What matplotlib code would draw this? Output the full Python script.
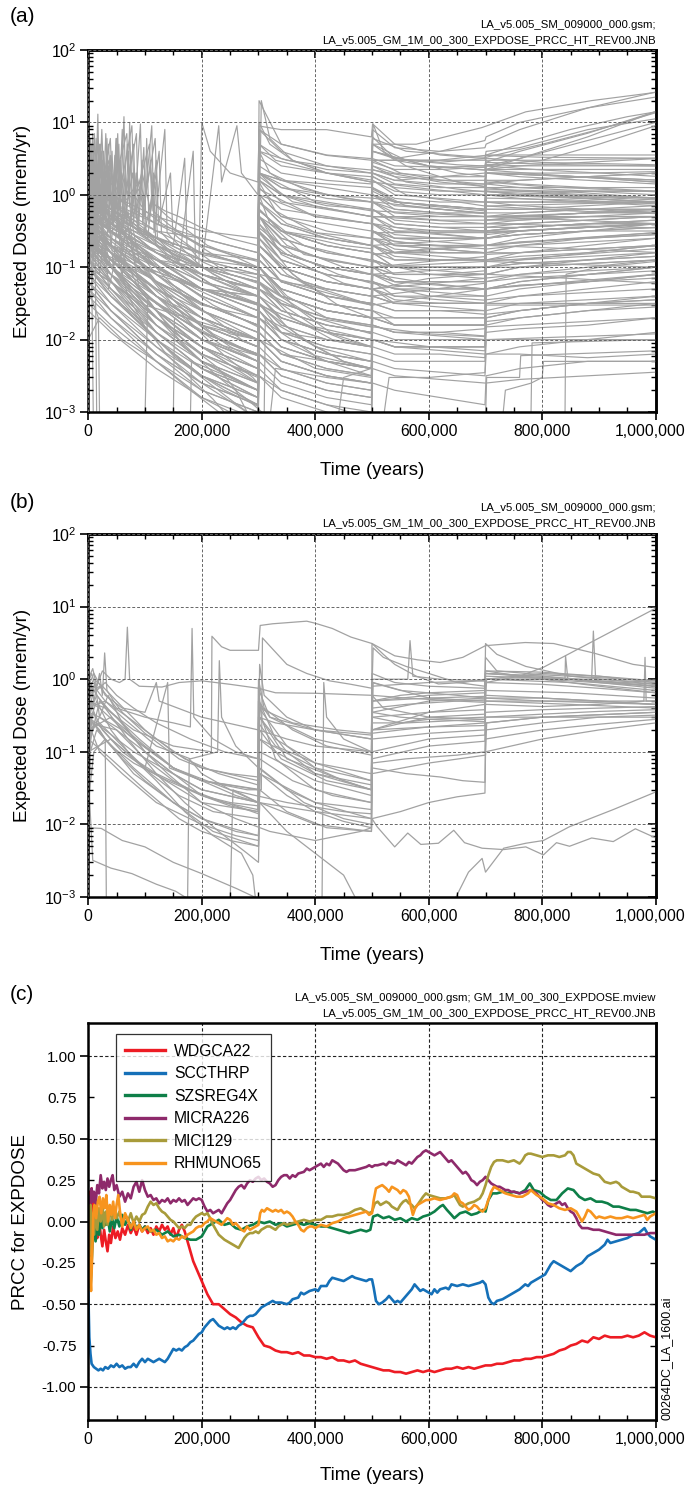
import numpy as np
import matplotlib
matplotlib.use('Agg')
import matplotlib.pyplot as plt
from matplotlib import font_manager
from matplotlib.transforms import ScaledTranslation
from matplotlib.ticker import (MultipleLocator, FixedLocator, LogLocator,
                               FuncFormatter, NullFormatter, FormatStrFormatter)

plt.rcParams['font.family'] = ['Liberation Sans', 'DejaVu Sans']
plt.rcParams['mathtext.default'] = 'regular'
plt.rcParams['axes.unicode_minus'] = False

_names = {f.name for f in font_manager.fontManager.ttflist}
if 'Liberation Sans Narrow' in _names:
    HDR_FONT, HDR_SIZE = ['Liberation Sans Narrow', 'Liberation Sans'], 10
else:
    HDR_FONT, HDR_SIZE = ['Liberation Sans', 'DejaVu Sans'], 8.2

# ---------------------------------------------------------------- data
# Panel (a): curves on a shared time grid (kyr), values are log10(dose mrem/yr)
T_GRID_A = [0, 40, 120, 200, 299, 301, 340, 420, 499, 501, 540, 620, 699, 701, 760, 880, 1000]
A_GRID_LOG = [
    [-0.5, -0.7, -0.9, -1.0, -1.1, 0.95, 0.9, 0.9, 0.8, 0.98, 0.7, 0.55, 0.5, 0.6, 0.65, 0.9, 1.05],
    [-0.3, -0.5, -0.8, -1.0, -1.2, 1.3, 0.7, 0.55, 0.5, 0.9, 0.65, 0.6, 0.65, 0.7, 0.9, 1.2, 1.42],
    [0.0, -0.2, -0.5, -0.6, -0.8, 0.9, 0.6, 0.4, 0.3, 0.8, 0.5, 0.6, 0.75, 0.8, 1.0, 1.2, 1.35],
    [-0.2, -0.4, -0.6, -0.8, -0.9, 0.7, 0.5, 0.35, 0.3, 0.6, 0.5, 0.45, 0.5, 0.55, 0.55, 0.55, 0.55],
    [-0.4, -0.6, -0.9, -1.1, -1.3, 0.6, 0.4, 0.3, 0.25, 0.5, 0.4, 0.38, 0.4, 0.45, 0.6, 0.85, 1.15],
    [0.1, -0.1, -0.4, -0.6, -0.8, 0.5, 0.3, 0.2, 0.15, 0.45, 0.35, 0.35, 0.38, 0.42, 0.4, 0.4, 0.4],
    [-0.6, -0.8, -1.1, -1.3, -1.5, 0.3, 0.1, 0.0, -0.1, 0.4, 0.3, 0.25, 0.25, 0.35, 0.5, 0.75, 1.0],
    [-0.2, -0.4, -0.7, -0.9, -1.0, 0.4, 0.2, 0.1, 0.0, 0.3, 0.2, 0.25, 0.3, 0.4, 0.5, 0.8, 1.15],
    [0.2, 0.0, -0.3, -0.5, -0.6, 0.3, 0.2, 0.15, 0.1, 0.35, 0.25, 0.2, 0.2, 0.3, 0.3, 0.3, 0.32],
    [-0.1, -0.3, -0.6, -0.8, -1.0, 0.2, 0.0, -0.1, -0.2, 0.2, 0.05, 0.0, 0.0, 0.2, 0.2, 0.25, 0.3],
    [-0.3, -0.5, -0.9, -1.2, -1.4, 0.0, -0.3, -0.5, -0.6, 0.1, -0.1, -0.15, -0.2, 0.1, 0.05, 0.0, -0.05],
    [-0.5, -0.7, -1.0, -1.3, -1.5, -0.2, -0.5, -0.7, -0.8, -0.1, -0.3, -0.35, -0.35, 0.0, -0.05, -0.1, -0.1],
    [-0.2, -0.6, -1.1, -1.5, -1.8, -0.4, -0.8, -1.0, -1.1, -0.3, -0.5, -0.5, -0.5, -0.2, -0.2, -0.15, -0.1],
    [-0.7, -0.9, -1.3, -1.6, -1.9, -0.6, -1.0, -1.2, -1.3, -0.5, -0.7, -0.7, -0.7, -0.4, -0.35, -0.3, -0.25],
    [0.0, -0.3, -0.8, -1.1, -1.3, -0.3, -0.6, -0.8, -0.9, 0.0, -0.2, -0.25, -0.3, 0.05, 0.0, -0.05, -0.1],
    [-0.4, -0.8, -1.4, -1.8, -2.1, -0.8, -1.2, -1.4, -1.5, -0.6, -0.8, -0.8, -0.8, -0.5, -0.45, -0.4, -0.35],
    [-0.9, -1.1, -1.5, -1.8, -2.0, -1.0, -1.3, -1.5, -1.6, -0.8, -1.0, -1.0, -1.0, -0.6, -0.55, -0.5, -0.45],
    [-0.1, -0.4, -0.9, -1.3, -1.6, -0.5, -0.9, -1.1, -1.2, -0.4, -0.6, -0.6, -0.6, -0.3, -0.3, -0.3, -0.3],
    [-0.6, -1.0, -1.6, -2.0, -2.3, -1.2, -1.5, -1.7, -1.8, -0.9, -1.1, -1.1, -1.05, -0.7, -0.6, -0.5, -0.4],
    [-0.3, -0.7, -1.2, -1.6, -1.9, -0.7, -1.0, -1.2, -1.3, -0.2, -0.4, -0.45, -0.5, -0.1, -0.15, -0.2, -0.25],
    [-1.0, -1.2, -1.7, -2.1, -2.4, -1.4, -1.7, -1.9, -2.0, -1.1, -1.2, -1.2, -1.2, -0.9, -0.8, -0.7, -0.6],
    [-0.5, -0.9, -1.5, -1.9, -2.2, -1.0, -1.4, -1.6, -1.7, -0.7, -0.9, -0.9, -0.9, -0.5, -0.45, -0.4, -0.4],
    [0.2, -0.2, -0.7, -1.0, -1.2, -0.1, -0.4, -0.6, -0.7, 0.2, 0.0, -0.05, -0.1, 0.2, 0.15, 0.1, 0.05],
    [-0.8, -1.0, -1.4, -1.7, -2.0, -0.9, -1.2, -1.4, -1.5, -0.5, -0.7, -0.75, -0.8, -0.3, -0.3, -0.25, -0.2],
    [-0.2, -0.5, -1.0, -1.4, -1.7, -0.3, -0.7, -0.9, -1.0, -0.2, -0.4, -0.45, -0.45, -0.1, -0.1, -0.1, -0.1],
    [-0.5, -1.0, -1.7, -2.2, -2.5, -1.5, -1.8, -2.0, -2.1, -1.2, -1.4, -1.4, -1.4, -1.0, -0.9, -0.8, -0.7],
    [-0.8, -1.2, -1.9, -2.4, -2.7, -1.8, -2.1, -2.3, -2.4, -1.5, -1.6, -1.6, -1.6, -1.2, -1.1, -1.0, -0.9],
    [-1.0, -1.4, -2.0, -2.5, -2.8, -2.0, -2.3, -2.5, -2.6, -1.8, -1.9, -1.9, -1.85, -1.4, -1.3, -1.2, -1.1],
    [-0.3, -0.8, -1.6, -2.1, -2.6, -1.6, -2.0, -2.3, -2.5, -1.6, -1.8, -1.8, -1.8, -1.3, -1.2, -1.1, -1.0],
    [-1.2, -1.6, -2.2, -2.6, -2.9, -2.2, -2.5, -2.7, -2.8, -2.0, -2.1, -2.1, -2.1, -1.7, -1.6, -1.5, -1.4],
    [-0.7, -1.1, -1.8, -2.3, -2.7, -1.7, -2.0, -2.2, -2.3, -1.4, -1.5, -1.5, -1.5, -1.5, -1.5, -1.5, -1.5],
    [-0.4, -0.9, -1.5, -2.0, -2.3, -1.3, -1.6, -1.8, -1.9, -1.0, -1.2, -1.25, -1.3, -0.8, -0.8, -0.75, -0.7],
    [-1.5, -1.8, -2.3, -2.7, -3.0, -2.3, -2.6, -2.8, -2.9, -2.2, -2.3, -2.3, -2.3, -2.0, -2.0, -2.0, -2.0],
    [-0.9, -1.3, -2.0, -2.5, -2.9, -2.1, -2.4, -2.6, -2.7, -2.0, -2.1, -2.15, -2.2, -2.2, -2.2, -2.25, -2.2],
    [-0.6, -1.1, -1.9, -2.4, -2.8, -1.9, -2.2, -2.4, -2.5, -1.7, -1.8, -1.8, -1.8, -1.3, -1.2, -1.1, -1.0],
    [-1.1, -1.5, -2.1, -2.6, -3.1, -2.4, -2.7, -2.9, -3.1, -2.4, -2.5, -2.55, -2.6, -2.6, -2.55, -2.5, -2.45],
    [-0.2, -0.7, -1.4, -1.9, -2.2, -1.1, -1.4, -1.6, -1.7, -0.8, -1.0, -1.0, -1.0, -0.6, -0.55, -0.5, -0.45],
    [-1.3, -1.7, -2.3, -2.8, -3.2, -2.5, -2.8, -3.0, -3.2, -2.6, -2.7, -2.8, -2.9, -2.5, -2.4, -2.3, -2.3],
    [0.3, -0.3, -1.1, -1.6, -2.0, -1.0, -1.3, -1.5, -1.6, -0.9, -1.0, -1.0, -1.0, -0.6, -0.5, -0.45, -0.4],
    [-0.4, -1.0, -1.8, -2.3, -2.6, -1.5, -1.9, -2.1, -2.2, -1.3, -1.5, -1.5, -1.5, -1.0, -0.95, -0.9, -0.85],
    [-0.1, -0.5, -1.0, -1.3, -1.5, -0.5, -0.8, -1.0, -1.1, -0.5, -0.6, -0.6, -0.6, -0.3, -0.3, -0.25, -0.2],
    [-0.6, -0.9, -1.3, -1.7, -2.0, -1.2, -1.4, -1.6, -1.7, -1.0, -1.1, -1.1, -1.1, -0.8, -0.7, -0.6, -0.55],
    [0.1, -0.2, -0.6, -0.9, -1.1, 0.1, -0.2, -0.3, -0.4, 0.1, -0.05, -0.1, -0.1, 0.15, 0.1, 0.05, 0.0],
    [-0.3, -0.6, -1.1, -1.5, -1.8, -0.9, -1.2, -1.3, -1.4, -0.8, -0.9, -0.9, -0.9, -0.5, -0.5, -0.45, -0.4],
    [-0.9, -1.2, -1.7, -2.1, -2.4, -1.6, -1.9, -2.0, -2.1, -1.4, -1.5, -1.5, -1.5, -1.1, -1.0, -0.9, -0.8],
    [-0.2, -0.5, -0.9, -1.2, -1.4, -0.2, -0.5, -0.6, -0.7, -0.1, -0.2, -0.25, -0.25, 0.05, 0.05, 0.05, 0.05],
    [-1.2, -1.5, -2.0, -2.4, -2.7, -1.9, -2.2, -2.3, -2.4, -1.7, -1.8, -1.8, -1.8, -1.5, -1.4, -1.3, -1.2],
    [0.0, -0.4, -0.9, -1.3, -1.6, -0.6, -0.9, -1.1, -1.2, -0.5, -0.65, -0.7, -0.7, -0.35, -0.35, -0.3, -0.3],
    [-0.4, -0.7, -1.2, -1.6, -1.9, -1.0, -1.3, -1.5, -1.6, -0.9, -1.0, -1.05, -1.1, -0.7, -0.65, -0.6, -0.55],
    [-0.7, -1.0, -1.5, -1.9, -2.2, -1.4, -1.6, -1.8, -1.9, -1.2, -1.3, -1.3, -1.3, -0.9, -0.85, -0.8, -0.7],
    [0.3, 0.0, -0.4, -0.7, -0.9, 0.2, 0.0, -0.15, -0.2, 0.25, 0.1, 0.05, 0.05, 0.3, 0.25, 0.2, 0.15],
    [-0.5, -0.8, -1.3, -1.7, -2.0, -1.1, -1.4, -1.6, -1.7, -0.9, -1.0, -1.0, -1.0, -0.6, -0.55, -0.5, -0.5],
    [-1.4, -1.7, -2.2, -2.6, -2.9, -2.2, -2.4, -2.6, -2.7, -2.0, -2.1, -2.1, -2.1, -1.8, -1.7, -1.6, -1.5],
    [-0.1, -0.3, -0.7, -1.0, -1.2, 0.0, -0.3, -0.4, -0.5, 0.05, -0.1, -0.15, -0.2, 0.1, 0.1, 0.1, 0.1],
    [-0.8, -1.1, -1.6, -2.0, -2.3, -1.5, -1.8, -2.0, -2.1, -1.3, -1.4, -1.45, -1.5, -1.1, -1.0, -0.95, -0.9],
    [-0.3, -0.8, -1.4, -1.8, -2.1, -1.0, -1.3, -1.5, -1.6, -0.7, -0.8, -0.85, -0.9, -0.5, -0.45, -0.4, -0.35],
    [-1.6, -1.9, -2.4, -2.8, -3.1, -2.5, -2.7, -2.9, -3.0, -2.3, -2.4, -2.45, -2.5, -2.2, -2.1, -2.0, -1.9],
    [-0.6, -0.9, -1.4, -1.8, -2.1, -1.2, -1.5, -1.7, -1.8, -1.1, -1.2, -1.2, -1.2, -0.9, -0.9, -0.85, -0.8],
    [0.0, -0.3, -0.8, -1.2, -1.5, -0.4, -0.7, -0.9, -1.0, -0.3, -0.45, -0.5, -0.5, -0.2, -0.2, -0.2, -0.2],
    [-1.0, -1.3, -1.8, -2.2, -2.5, -1.7, -2.0, -2.2, -2.3, -1.6, -1.7, -1.7, -1.7, -1.3, -1.25, -1.2, -1.1],
    [-0.4, -0.6, -1.0, -1.4, -1.7, -0.7, -1.0, -1.2, -1.3, -0.6, -0.75, -0.8, -0.8, -0.45, -0.4, -0.35, -0.3],
    [-1.1, -1.4, -1.9, -2.3, -2.6, -1.8, -2.1, -2.3, -2.4, -1.9, -2.0, -2.0, -2.0, -1.7, -1.6, -1.5, -1.45],
    [-0.2, -0.5, -1.0, -1.4, -1.7, -0.8, -1.1, -1.3, -1.4, -0.6, -0.7, -0.75, -0.8, -0.4, -0.4, -0.35, -0.3],
    [-0.7, -1.0, -1.6, -2.1, -2.5, -1.6, -1.9, -2.1, -2.2, -1.4, -1.5, -1.55, -1.6, -1.2, -1.15, -1.1, -1.05],
    [0.2, -0.1, -0.5, -0.8, -1.0, 0.3, 0.1, -0.05, -0.1, 0.3, 0.2, 0.15, 0.15, 0.35, 0.35, 0.35, 0.35],
    [-0.5, -0.9, -1.5, -2.0, -2.4, -1.4, -1.7, -1.9, -2.0, -1.2, -1.3, -1.35, -1.4, -1.0, -0.95, -0.9, -0.85],
    [-1.3, -1.6, -2.1, -2.5, -2.8, -2.0, -2.3, -2.5, -2.6, -2.1, -2.2, -2.2, -2.25, -1.9, -1.85, -1.8, -1.7],
    [-0.3, -0.6, -1.0, -1.3, -1.6, -0.5, -0.8, -1.0, -1.1, -0.4, -0.5, -0.55, -0.6, -0.25, -0.25, -0.2, -0.2],
    [-0.9, -1.2, -1.8, -2.3, -2.7, -1.8, -2.1, -2.3, -2.4, -1.7, -1.8, -1.8, -1.8, -1.45, -1.4, -1.35, -1.3],
    [0.1, -0.3, -0.8, -1.1, -1.4, -0.3, -0.6, -0.8, -0.9, -0.2, -0.35, -0.4, -0.4, -0.1, -0.1, -0.1, -0.15],
    [-0.6, -1.0, -1.5, -1.9, -2.2, -1.3, -1.6, -1.8, -1.9, -1.1, -1.25, -1.3, -1.3, -1.0, -1.0, -0.95, -0.9],
    [-0.2, -0.4, -0.8, -1.1, -1.3, -0.1, -0.4, -0.6, -0.7, 0.0, -0.1, -0.15, -0.2, 0.15, 0.2, 0.25, 0.3],
    [-1.0, -1.4, -2.0, -2.5, -2.9, -2.0, -2.3, -2.5, -2.6, -1.8, -1.9, -1.9, -1.95, -1.6, -1.5, -1.45, -1.4],
    [-0.4, -0.8, -1.3, -1.7, -2.0, -0.9, -1.2, -1.4, -1.5, -0.7, -0.85, -0.9, -0.9, -0.55, -0.5, -0.45, -0.4],
    [-0.8, -1.2, -1.7, -2.1, -2.4, -1.5, -1.7, -1.9, -2.0, -1.3, -1.45, -1.5, -1.5, -1.15, -1.1, -1.05, -1.0],
    [0.0, -0.2, -0.6, -0.9, -1.1, 0.2, -0.1, -0.2, -0.3, 0.3, 0.15, 0.1, 0.1, 0.35, 0.4, 0.45, 0.5],
    [-0.5, -0.8, -1.2, -1.5, -1.8, -0.6, -0.9, -1.1, -1.2, -0.4, -0.55, -0.6, -0.6, -0.3, -0.25, -0.2, -0.15],
    [-1.2, -1.6, -2.2, -2.7, -3.0, -2.2, -2.5, -2.7, -2.8, -2.0, -2.1, -2.1, -2.1, -1.75, -1.7, -1.6, -1.55],
    [-0.3, -0.7, -1.2, -1.5, -1.8, -0.7, -1.0, -1.2, -1.3, -0.5, -0.6, -0.65, -0.7, -0.35, -0.3, -0.25, -0.25],
    [-0.7, -1.1, -1.7, -2.2, -2.6, -1.7, -2.0, -2.2, -2.3, -1.5, -1.6, -1.6, -1.65, -1.3, -1.25, -1.2, -1.15],
    [-0.1, -0.4, -0.8, -1.1, -1.3, -0.2, -0.5, -0.7, -0.8, -0.1, -0.25, -0.3, -0.3, 0.0, 0.0, 0.05, 0.05],
    [-0.9, -1.3, -1.9, -2.4, -2.8, -1.9, -2.2, -2.4, -2.5, -1.8, -1.9, -1.95, -2.0, -1.65, -1.6, -1.5, -1.45],
    [-0.4, -0.7, -1.1, -1.5, -1.8, -0.8, -1.1, -1.3, -1.4, -0.7, -0.8, -0.8, -0.8, -0.45, -0.45, -0.4, -0.4],
    [-0.6, -0.9, -1.4, -1.8, -2.1, -1.1, -1.4, -1.6, -1.7, -1.0, -1.1, -1.1, -1.1, -0.75, -0.7, -0.65, -0.6],
    [0.2, -0.1, -0.6, -1.0, -1.3, -0.2, -0.5, -0.7, -0.8, 0.0, -0.15, -0.2, -0.25, 0.05, 0.0, -0.05, -0.1],
]

# Panel (a): free-form curves, (time kyr, dose mrem/yr)
A_FREE = [
    [(0, 0.5), (3, 2), (6, 0.4), (9, 5), (12, 0.6), (17, 13), (20, 0.8), (25, 3), (28, 0.5), (33, 6), (37, 0.6), (42, 4), (46, 0.5), (52, 7), (56, 0.5), (63, 12), (67, 0.5), (75, 3), (80, 0.4), (92, 9.5), (96, 0.4), (112, 9), (116, 0.3), (135, 8), (139, 0.3), (160, 0.2), (200, 0.1), (250, 0.06), (299, 0.05), (301, 0.8), (350, 0.4), (400, 0.3), (499, 0.2), (501, 1.5), (600, 1.2), (699, 1), (701, 2), (850, 1.8), (1000, 1.5)],
    [(0, 1), (4, 6), (7, 0.8), (11, 7), (14, 1), (22, 5), (26, 0.7), (31, 7), (35, 0.9), (40, 3), (44, 0.6), (49, 6), (53, 0.6), (58, 2), (70, 1), (73, 10), (77, 0.5), (85, 2), (100, 0.5), (103, 6), (107, 0.4), (125, 4), (129, 0.3), (150, 0.2), (170, 3.2), (174, 0.2), (200, 0.12), (250, 0.08), (299, 0.06), (301, 1.5), (330, 0.6), (400, 0.3), (499, 0.25), (501, 1.8), (560, 1.0), (650, 0.8), (699, 0.7), (701, 1.5), (800, 1.3), (1000, 1.1)],
    [(0, 3), (2, 0.3), (5, 4), (8, 0.5), (14, 6), (18, 0.7), (23, 4), (27, 1), (36, 5), (40, 0.8), (48, 2), (55, 1), (60, 8), (64, 0.8), (80, 5), (84, 0.5), (95, 2), (110, 0.6), (120, 3), (124, 0.4), (145, 2), (149, 0.3), (160, 0.25), (200, 0.15), (230, 0.1), (299, 0.07), (301, 0.6), (350, 0.3), (450, 0.2), (499, 0.18), (501, 0.9), (600, 0.7), (699, 0.6), (701, 1.2), (850, 1.1), (1000, 0.9)],
    [(0, 0.2), (3, 1.5), (6, 0.3), (10, 2.5), (15, 0.4), (20, 3), (30, 0.5), (38, 2), (45, 0.4), (57, 3), (62, 0.35), (78, 2), (88, 0.3), (98, 4.5), (102, 0.3), (130, 0.2), (160, 0.12), (185, 4), (189, 0.12), (220, 0.08), (270, 0.05), (299, 0.04), (301, 0.3), (350, 0.15), (420, 0.1), (499, 0.08), (501, 0.5), (600, 0.45), (699, 0.4), (701, 0.9), (850, 0.85), (1000, 0.75)],
    [(0, 0.1), (2, 0.8), (5, 0.15), (8, 1.2), (12, 0.2), (19, 2), (24, 0.25), (32, 1.5), (40, 0.2), (50, 1), (60, 0.15), (70, 0.6), (85, 0.1), (110, 0.07), (150, 0.04), (200, 0.02), (250, 0.012), (299, 0.01), (301, 0.2), (350, 0.08), (420, 0.04), (499, 0.03), (501, 0.3), (600, 0.3), (699, 0.3), (701, 0.7), (850, 0.6), (1000, 0.55)],
    [(0, 0.05), (1, 0.003), (3, 0.8), (8, 0.4), (13, 1.8), (17, 0.3), (27, 1.2), (35, 0.3), (47, 1), (60, 0.2), (75, 0.5), (90, 0.12), (120, 0.06), (160, 0.03), (200, 0.015), (250, 0.008), (299, 0.005), (301, 0.1), (350, 0.04), (420, 0.02), (499, 0.015), (501, 0.15), (600, 0.18), (699, 0.2), (701, 0.45), (850, 0.5), (1000, 0.5)],
    [(0, 0.8), (4, 0.2), (9, 1.5), (16, 0.3), (21, 4), (25, 0.5), (34, 2.5), (43, 0.4), (54, 5), (58, 0.4), (66, 1), (85, 7), (89, 0.3), (105, 0.25), (115, 2), (119, 0.2), (150, 0.12), (200, 0.07), (250, 0.04), (299, 0.03), (301, 1.0), (320, 0.4), (380, 0.15), (499, 0.1), (501, 1.2), (560, 0.7), (650, 0.6), (699, 0.55), (701, 1.0), (850, 0.95), (1000, 0.85)],
    [(0, 2), (3, 0.5), (7, 3), (12, 0.5), (16, 2), (30, 1.5), (45, 0.8), (65, 0.5), (90, 0.3), (120, 0.2), (150, 0.15), (200, 0.1), (230, 9), (235, 1.5), (262, 9), (270, 2), (299, 1), (301, 10), (320, 5), (360, 3), (420, 2), (499, 1.5), (501, 5), (540, 3), (600, 2.5), (699, 2.2), (701, 3), (800, 3), (1000, 3.2)],
    [(0, 0.3), (5, 0.6), (10, 0.25), (20, 0.7), (35, 0.35), (50, 0.5), (70, 0.25), (100, 0.15), (130, 0.08), (170, 0.04), (220, 0.02), (270, 0.01), (299, 0.008), (301, 0.06), (360, 0.02), (430, 0.01), (499, 0.008), (501, 0.1), (600, 0.12), (699, 0.14), (701, 0.3), (850, 0.35), (1000, 0.4)],
    [(0, 0.002), (2, 1.2), (6, 0.6), (11, 2), (18, 0.8), (29, 1.5), (41, 0.7), (60, 0.6), (80, 0.4), (110, 0.25), (140, 0.15), (180, 0.09), (230, 0.05), (299, 0.03), (301, 0.35), (360, 0.15), (440, 0.08), (499, 0.06), (501, 0.6), (600, 0.55), (699, 0.5), (701, 1.0), (850, 0.9), (1000, 0.8)],
    [(0, 1.5), (5, 2.5), (10, 1), (20, 2), (30, 1.2), (45, 1.5), (60, 0.8), (80, 1.0), (100, 0.6), (130, 0.4), (160, 0.3), (200, 0.2), (250, 0.15), (299, 0.12), (301, 2), (340, 1), (400, 0.7), (499, 0.5), (501, 2.5), (560, 1.5), (650, 1.2), (699, 1.1), (701, 2.2), (850, 1.8), (1000, 1.5)],
    [(0, 0.03), (4, 0.4), (10, 0.15), (25, 0.3), (40, 0.1), (60, 0.15), (90, 0.05), (130, 0.02), (180, 0.008), (230, 0.004), (260, 0.002), (280, 0.001), (285, 0.0008)],
    [(0, 0.6), (6, 0.9), (14, 0.4), (24, 0.8), (38, 0.3), (55, 0.4), (80, 0.15), (110, 0.07), (150, 0.03), (200, 0.012), (240, 0.006), (290, 0.003), (299, 0.0025), (301, 0.04), (350, 0.015), (400, 0.008), (450, 0.005), (499, 0.004), (501, 0.05), (600, 0.07), (699, 0.08), (701, 0.2), (850, 0.25), (1000, 0.3)],
    [(0, 4), (3, 1), (8, 7), (12, 1), (20, 5), (26, 1.5), (39, 6), (43, 1), (50, 2), (68, 7), (72, 1), (90, 1.5), (108, 5), (112, 0.8), (140, 0.5), (180, 0.3), (210, 0.2), (250, 0.15), (299, 0.1), (301, 4), (320, 2), (380, 1.2), (450, 0.9), (499, 0.8), (501, 3), (550, 2), (620, 1.6), (699, 1.4), (701, 2.5), (800, 2.2), (900, 2), (1000, 1.8)],
    [(0, 0.8), (3, 2.5), (6, 0.7), (10, 3), (14, 0.9), (18, 2), (22, 0.6), (27, 4), (31, 0.7), (36, 2.5), (41, 0.6), (47, 3.5), (51, 0.5), (59, 2), (64, 0.5), (71, 4), (75, 0.4), (82, 2), (87, 0.35), (95, 3), (99, 0.3), (118, 1.5), (122, 0.25), (150, 0.15), (200, 0.08), (260, 0.05), (299, 0.04), (301, 0.5), (380, 0.2), (499, 0.12), (501, 0.8), (650, 0.6), (699, 0.55), (701, 1.1), (1000, 0.9)],
    [(0, 0.15), (4, 0.5), (8, 0.12), (13, 0.7), (18, 0.15), (24, 0.9), (29, 0.12), (37, 0.6), (44, 0.1), (52, 0.5), (60, 0.08), (72, 0.3), (90, 0.05), (120, 0.025), (160, 0.01), (200, 0.005), (250, 0.003), (299, 0.002), (301, 0.02), (400, 0.006), (499, 0.004), (501, 0.03), (699, 0.05), (701, 0.12), (1000, 0.18)],
    [(0, 1.2), (2, 3), (5, 1.0), (9, 4), (13, 1.2), (17, 6), (21, 1.0), (26, 2), (33, 1.5), (39, 3.5), (44, 0.9), (53, 2.5), (61, 0.8), (69, 5), (73, 0.7), (88, 1.2), (100, 0.8), (110, 3), (114, 0.6), (140, 0.4), (175, 0.25), (220, 0.15), (299, 0.09), (301, 1.8), (360, 0.8), (499, 0.5), (501, 2.2), (620, 1.5), (699, 1.3), (701, 2.0), (1000, 1.6)],
    [(0, 0.4), (5, 1.0), (11, 0.35), (16, 1.3), (23, 0.4), (30, 1.0), (38, 0.3), (45, 0.8), (55, 0.25), (65, 0.6), (80, 0.15), (100, 0.1), (130, 0.05), (170, 0.025), (220, 0.012), (299, 0.006), (301, 0.06), (400, 0.02), (499, 0.012), (501, 0.1), (699, 0.12), (701, 0.3), (1000, 0.4)],
    [(0, 0.07), (3, 0.3), (7, 0.06), (12, 0.4), (20, 0.08), (28, 0.3), (36, 0.05), (50, 0.15), (70, 0.04), (100, 0.015), (140, 0.006), (180, 0.003), (220, 0.0015), (250, 0.0008)],
    [(0, 2.5), (3, 0.8), (6, 5), (9, 1.2), (15, 3), (19, 1), (24, 8), (28, 1.1), (35, 3), (45, 1.5), (50, 6), (54, 1), (62, 2), (77, 9), (81, 0.9), (90, 1.5), (100, 0.9), (118, 6), (122, 0.7), (135, 0.6), (160, 0.5), (200, 0.35), (250, 0.25), (299, 0.2), (301, 5), (330, 3), (420, 2), (499, 1.6), (501, 4), (600, 2.5), (699, 2.2), (701, 2.8), (850, 2.6), (1000, 2.5)],
    [(0, 0.2), (50, 0.05), (100, 0.015), (150, 0.006), (200, 0.003), (250, 0.0015), (280, 0.001), (299, 0.0008)],
    [(0, 0.1), (60, 0.03), (120, 0.01), (180, 0.004), (240, 0.002), (299, 0.0012), (301, 0.01), (400, 0.004), (499, 0.003), (501, 0.02), (600, 0.02), (699, 0.02), (701, 0.05), (1000, 0.08)],
    [(0, 0.5), (80, 0.08), (160, 0.02), (240, 0.008), (299, 0.005), (301, 0.03), (380, 0.01), (450, 0.005), (499, 0.004), (501, 0.015), (600, 0.012), (699, 0.011), (701, 0.03), (850, 0.03), (1000, 0.03)],
    [(0, 0.8), (60, 0.3), (140, 0.08), (220, 0.03), (299, 0.015), (301, 0.3), (360, 0.08), (440, 0.03), (499, 0.02), (501, 0.12), (600, 0.08), (699, 0.07), (701, 0.2), (850, 0.18), (1000, 0.16)],
    [(0, 0.4), (70, 0.1), (150, 0.03), (230, 0.01), (299, 0.006), (301, 0.1), (360, 0.03), (430, 0.012), (499, 0.008), (501, 0.06), (600, 0.04), (699, 0.035), (701, 0.08), (850, 0.07), (1000, 0.06)],
    [(320, 0.0008), (330, 0.004), (420, 0.003), (499, 0.0025), (501, 0.01), (600, 0.008), (699, 0.007), (701, 0.015), (1000, 0.02)],
    [(520, 0.0008), (530, 0.003), (600, 0.003), (699, 0.0035), (701, 0.01), (1000, 0.012)],
    [(0, 0.25), (90, 0.04), (180, 0.01), (260, 0.004), (299, 0.003), (301, 0.05), (400, 0.015), (499, 0.01), (501, 0.08), (600, 0.06), (699, 0.05), (701, 0.12), (1000, 0.1)],
    [(0, 1.0), (50, 0.5), (130, 0.2), (200, 0.1), (299, 0.05), (301, 0.5), (350, 0.2), (450, 0.1), (499, 0.08), (501, 0.4), (600, 0.3), (699, 0.25), (701, 0.5), (850, 0.45), (1000, 0.4)],
    [(0, 0.6), (40, 0.3), (110, 0.12), (190, 0.05), (299, 0.02), (301, 0.2), (380, 0.06), (499, 0.03), (501, 0.25), (600, 0.2), (699, 0.18), (701, 0.4), (1000, 0.35)],
    [(0, 0.2), (6, 0.1), (9, 0.0008)],
    [(0, 0.6), (12, 0.3), (15, 0.0008)],
    [(0, 0.05), (18, 0.02), (20, 0.0008)],
    [(150, 0.0008), (152, 0.02), (200, 0.01), (299, 0.006), (301, 0.05), (400, 0.02), (499, 0.015), (501, 0.15), (699, 0.2), (701, 0.5), (1000, 0.6)],
    [(180, 0.0008), (182, 0.005), (250, 0.003), (299, 0.002), (301, 0.03), (450, 0.01), (499, 0.008), (501, 0.08), (699, 0.1), (701, 0.3), (1000, 0.4)],
    [(300, 0.0008), (302, 0.5), (340, 0.15), (450, 0.06), (499, 0.05), (501, 0.5), (699, 0.5), (701, 1), (1000, 0.9)],
    [(310, 0.0008), (312, 0.02), (400, 0.008), (499, 0.005), (501, 0.04), (699, 0.06), (701, 0.2), (1000, 0.3)],
    [(700, 0.0008), (702, 0.003), (760, 0.003), (762, 0.006), (1000, 0.007)],
    [(730, 0.0008), (735, 0.002), (780, 0.0025), (800, 0.003), (802, 0.005), (1000, 0.005)],
    [(780, 0.0008), (782, 0.009), (1000, 0.01)],
    [(840, 0.0008), (842, 0.08), (900, 0.1), (1000, 0.12)],
    [(440, 0.0008), (450, 0.003), (499, 0.004), (501, 0.05), (699, 0.07), (701, 0.15), (1000, 0.2)],
    [(100, 0.0008), (105, 0.04), (160, 0.02), (230, 0.01), (299, 0.006), (301, 0.08), (499, 0.03), (501, 0.2), (699, 0.25), (701, 0.7), (1000, 0.8)],
    [(0, 0.3), (40, 0.1), (100, 0.03), (170, 0.008), (230, 0.003), (280, 0.0015), (320, 0.0008)],
    [(0, 0.01), (20, 0.02), (60, 0.01), (120, 0.005), (180, 0.002), (230, 0.001), (240, 0.0008)],
    [(0, 0.4), (100, 0.1), (200, 0.05), (299, 0.03), (301, 1.2), (400, 0.5), (499, 0.4), (501, 4), (560, 3), (650, 2.6), (699, 2.5), (701, 3.2), (800, 2.8), (1000, 2.6)],
    [(0, 0.5), (100, 0.2), (195, 0.1), (200, 10), (215, 4), (250, 2), (299, 1.5), (301, 8), (340, 5), (420, 3.5), (499, 3), (501, 6), (560, 4), (650, 3.5), (699, 3.3), (701, 3.5), (800, 3.3), (1000, 3.2)],
    [(0, 0.3), (100, 0.1), (200, 0.05), (299, 0.04), (305, 20), (320, 6), (360, 3), (420, 2), (499, 1.5), (501, 5), (560, 3), (650, 2), (699, 1.8), (701, 2.5), (800, 3), (900, 5), (1000, 9)],
    [(0, 0.2), (200, 0.03), (299, 0.02), (301, 2), (400, 0.8), (499, 0.6), (502, 9.5), (520, 4), (560, 2.5), (650, 1.5), (699, 1.3), (701, 2), (850, 1.8), (1000, 1.6)],
    [(0, 0.8), (100, 0.3), (200, 0.15), (299, 0.1), (301, 4), (350, 3), (420, 2.5), (499, 2.2), (501, 5), (578, 5), (694, 8.5), (771, 14), (887, 20), (1000, 26)],
    [(0, 0.1), (100, 0.03), (299, 0.01), (301, 1), (400, 0.5), (499, 0.4), (501, 3), (600, 3), (699, 3), (701, 3.3), (800, 5), (900, 8), (1000, 13.6)],
    [(0, 0.6), (200, 0.05), (299, 0.04), (301, 2), (420, 1), (499, 0.9), (501, 3), (617, 3), (699, 3.5), (760, 5), (850, 8), (950, 12), (1000, 14)],
]

# Panel (b): (time kyr, dose mrem/yr)
B_CURVES = [
    [(0, 0.3), (5, 0.9), (10, 0.5), (20, 1.2), (25, 0.6), (29, 2.3), (33, 0.7), (45, 0.5), (60, 0.35), (80, 0.25), (100, 0.18), (130, 0.12), (160, 0.08), (200, 0.06), (250, 0.05), (299, 0.045), (300, 0.5), (320, 0.3), (400, 0.2), (499, 0.15), (500, 0.9), (550, 0.7), (650, 0.6), (699, 0.55), (700, 1.2), (800, 1.1), (900, 0.9), (1000, 0.75)],
    [(0, 1.0), (8, 1.4), (15, 0.8), (25, 1.3), (40, 1.0), (55, 0.9), (65, 1.0), (69, 5.2), (73, 1.0), (90, 0.8), (130, 0.78), (160, 0.9), (200, 0.95), (250, 0.85), (300, 0.75), (330, 0.65), (400, 0.64), (500, 0.6), (560, 0.55), (650, 0.5), (699, 0.48), (700, 1.0), (800, 1.2), (900, 1.1), (1000, 0.9)],
    [(0, 0.5), (30, 0.4), (80, 0.2), (150, 0.12), (217, 0.1), (218, 3.9), (235, 2.8), (250, 2.5), (300, 2.5), (303, 5.5), (325, 5.8), (350, 6.0), (385, 6.3), (400, 5.9), (430, 5.0), (463, 3.8), (500, 3.1), (540, 2.1), (580, 1.85), (620, 1.7), (660, 2.0), (700, 2.9), (770, 3.2), (820, 3.1), (890, 2.3), (960, 1.6), (1000, 1.45)],
    [(0, 0.2), (40, 0.3), (100, 0.12), (150, 0.06), (200, 0.04), (250, 0.035), (305, 0.03), (307, 3.7), (325, 2.6), (350, 1.6), (385, 1.2), (425, 0.95), (463, 0.85), (500, 0.75), (502, 2.7), (520, 2.0), (560, 1.5), (600, 1.2), (650, 0.9), (699, 0.8), (700, 1.3), (800, 1.0), (900, 0.8), (1000, 0.65)],
    [(0, 0.6), (20, 0.8), (50, 0.4), (100, 0.3), (150, 0.25), (180, 0.22), (183, 5.0), (186, 0.3), (220, 0.15), (260, 0.1), (300, 0.08), (302, 1.6), (310, 0.6), (350, 0.3), (400, 0.2), (500, 0.15), (502, 0.9), (600, 0.55), (700, 0.5), (702, 1.0), (850, 0.9), (1000, 0.7)],
    [(0, 0.4), (30, 0.5), (60, 0.3), (120, 0.12), (180, 0.08), (228, 0.1), (231, 1.8), (235, 0.3), (260, 0.12), (300, 0.06), (350, 0.03), (400, 0.02), (450, 0.018), (499, 0.016), (500, 0.3), (550, 0.25), (600, 0.28), (699, 0.3), (700, 0.6), (800, 0.55), (900, 0.5), (1000, 0.45)],
    [(0, 0.15), (20, 0.3), (50, 0.2), (100, 0.08), (150, 0.04), (200, 0.025), (250, 0.02), (300, 0.018), (301, 0.4), (350, 0.12), (400, 0.06), (450, 0.04), (499, 0.03), (500, 3.1), (520, 2.2), (540, 1.6), (578, 1.1), (617, 0.86), (660, 0.9), (699, 1.0), (700, 2.0), (720, 1.3), (800, 1.15), (900, 1.05), (1000, 0.95)],
    [(0, 0.8), (10, 1.2), (30, 0.6), (60, 0.4), (100, 0.35), (120, 0.9), (125, 0.5), (200, 0.3), (300, 0.2), (350, 0.15), (400, 0.12), (500, 0.1), (501, 1.0), (540, 1.0), (563, 1.0), (567, 3.4), (572, 1.1), (620, 1.0), (699, 0.95), (700, 1.2), (800, 1.1), (900, 0.95), (1000, 0.8)],
    [(0, 0.25), (50, 0.2), (100, 0.1), (150, 0.05), (200, 0.03), (300, 0.02), (301, 0.5), (330, 0.15), (400, 0.07), (499, 0.04), (500, 0.5), (550, 0.6), (600, 0.65), (699, 0.7), (700, 3.1), (720, 2.2), (771, 1.5), (850, 1.1), (1000, 0.85)],
    [(0, 0.1), (40, 0.15), (100, 0.06), (200, 0.02), (300, 0.015), (302, 0.3), (350, 0.08), (450, 0.04), (499, 0.03), (500, 0.35), (600, 0.5), (699, 0.55), (700, 1.0), (800, 1.0), (887, 1.0), (890, 4.6), (894, 1.0), (1000, 0.9)],
    [(0, 0.5), (20, 0.4), (80, 0.15), (150, 0.06), (250, 0.03), (350, 0.02), (450, 0.015), (499, 0.014), (500, 0.2), (600, 0.35), (699, 0.45), (700, 0.9), (760, 1.1), (802, 1.46), (1000, 9.5)],
    [(0, 0.7), (10, 1.0), (25, 0.8), (50, 0.5), (100, 0.2), (150, 0.1), (200, 0.06), (300, 0.04), (301, 0.7), (320, 0.3), (400, 0.15), (499, 0.1), (500, 1.2), (540, 0.9), (600, 0.8), (699, 0.75), (700, 1.2), (840, 1.0), (841, 2.1), (845, 1.0), (1000, 0.8)],
    [(0, 0.3), (15, 0.6), (40, 0.35), (90, 0.15), (150, 0.06), (200, 0.04), (280, 0.03), (300, 0.03), (302, 0.2), (340, 0.08), (420, 0.04), (499, 0.03), (500, 0.2), (600, 0.22), (699, 0.25), (700, 0.45), (800, 0.42), (900, 0.45), (979, 0.5), (981, 2.0), (983, 0.5), (1000, 0.5)],
    [(0, 0.05), (5, 0.2), (20, 0.1), (60, 0.05), (120, 0.02), (200, 0.01), (260, 0.007), (300, 0.006), (302, 0.06), (380, 0.02), (450, 0.012), (499, 0.01), (500, 0.08), (600, 0.12), (699, 0.14), (700, 0.3), (800, 0.33), (900, 0.36), (1000, 0.38)],
    [(0, 0.02), (10, 0.1), (30, 0.15), (80, 0.06), (150, 0.02), (220, 0.008), (300, 0.005), (302, 0.05), (400, 0.02), (499, 0.012), (500, 0.1), (600, 0.15), (699, 0.17), (700, 0.25), (800, 0.3), (1000, 0.35)],
    [(0, 0.4), (8, 0.2), (20, 0.5), (50, 0.3), (100, 0.1), (140, 0.05), (200, 0.02), (260, 0.012), (320, 0.008), (400, 0.006), (480, 0.008), (499, 0.009), (500, 0.07), (560, 0.08), (650, 0.09), (699, 0.1), (700, 0.2), (800, 0.25), (900, 0.3), (1000, 0.32)],
    [(0, 0.2), (20, 0.25), (60, 0.12), (110, 0.05), (160, 0.025), (220, 0.015), (300, 0.012), (301, 0.15), (330, 0.1), (400, 0.05), (499, 0.035), (500, 0.25), (560, 0.25), (650, 0.27), (699, 0.28), (700, 0.55), (800, 0.55), (900, 0.5), (1000, 0.45)],
    [(0, 0.009), (23, 0.0088), (60, 0.006), (100, 0.0049), (150, 0.003), (200, 0.0021), (262, 0.0013), (293, 0.001), (300, 0.0008)],
    [(0, 0.05), (8, 0.0032), (40, 0.0025), (77, 0.0021), (120, 0.0015), (154, 0.0012), (180, 0.0009)],
    [(640, 0.0008), (648, 0.001), (670, 0.0022), (694, 0.0034), (700, 0.0022), (732, 0.0047), (771, 0.0055), (802, 0.006), (848, 0.0093), (925, 0.016), (1000, 0.028)],
    [(0, 0.3), (80, 0.1), (200, 0.03), (300, 0.02), (400, 0.015), (500, 0.012), (509, 0.0093), (540, 0.0049), (563, 0.0076), (586, 0.0053), (617, 0.0055), (644, 0.0083), (663, 0.0056), (694, 0.0047), (732, 0.0045), (771, 0.0049), (802, 0.0038), (825, 0.0056), (848, 0.005), (887, 0.0065), (925, 0.0058), (964, 0.0087), (1000, 0.0065)],
    [(0, 0.3), (30, 0.15), (80, 0.05), (150, 0.02), (200, 0.012), (260, 0.008), (300, 0.007), (302, 0.03), (350, 0.015), (420, 0.009), (499, 0.008), (500, 0.05), (600, 0.07), (700, 0.09), (702, 0.25), (800, 0.3), (1000, 0.35)],
    [(0, 0.15), (40, 0.08), (100, 0.03), (160, 0.012), (200, 0.008), (250, 0.006), (300, 0.005), (302, 0.02), (400, 0.01), (499, 0.008), (500, 0.012), (550, 0.015), (600, 0.02), (650, 0.024), (699, 0.027), (700, 0.1), (800, 0.15), (900, 0.2), (1000, 0.25)],
    [(0, 0.6), (10, 0.8), (30, 0.5), (70, 0.3), (120, 0.15), (170, 0.08), (230, 0.05), (299, 0.035), (300, 1.0), (310, 0.4), (360, 0.2), (420, 0.12), (499, 0.09), (500, 0.4), (560, 0.45), (650, 0.5), (699, 0.52), (700, 0.9), (800, 0.85), (900, 0.75), (1000, 0.65)],
    [(412, 0.0009), (415, 0.9), (420, 0.3), (450, 0.15), (499, 0.1), (500, 0.5), (600, 0.6), (699, 0.65), (700, 1.1), (850, 1.0), (1000, 0.85)],
    [(175, 0.0008), (178, 0.08), (200, 0.05), (250, 0.03), (300, 0.02), (302, 0.15), (400, 0.06), (499, 0.04), (500, 0.3), (600, 0.35), (699, 0.38), (700, 0.7), (850, 0.65), (1000, 0.55)],
    [(250, 0.0008), (255, 0.03), (300, 0.02), (302, 0.3), (350, 0.1), (400, 0.05), (499, 0.03), (500, 0.2), (600, 0.3), (699, 0.33), (700, 0.5), (1000, 0.5)],
    [(0, 0.002), (5, 0.3), (15, 0.5), (40, 0.2), (80, 0.08), (120, 0.04), (170, 0.015), (220, 0.007), (270, 0.004), (290, 0.002), (295, 0.0009)],
    [(0, 0.5), (10, 0.7), (30, 0.4), (70, 0.15), (120, 0.05), (170, 0.02), (230, 0.008), (280, 0.004), (300, 0.003), (302, 0.02), (350, 0.008), (400, 0.004), (450, 0.002), (470, 0.001), (475, 0.0009)],
    [(0, 1.5), (3, 0.4), (12, 0.9), (20, 0.3), (35, 0.6), (60, 0.25), (100, 0.1), (150, 0.05), (200, 0.025), (250, 0.018), (299, 0.015), (300, 0.8), (305, 0.3), (330, 0.08), (400, 0.03), (499, 0.02), (500, 0.18), (550, 0.2), (600, 0.22), (699, 0.23), (700, 0.35), (800, 0.38), (1000, 0.42)],
    [(0, 0.2), (10, 0.35), (25, 0.2), (60, 0.1), (100, 0.06), (140, 0.9), (143, 0.06), (200, 0.04), (260, 0.025), (300, 0.02), (302, 0.1), (400, 0.04), (499, 0.025), (500, 0.6), (520, 0.4), (600, 0.3), (699, 0.28), (700, 0.55), (800, 0.5), (1000, 0.45)],
    [(0, 0.03), (5, 0.5), (15, 0.25), (40, 0.15), (80, 0.08), (120, 0.05), (180, 0.03), (240, 0.02), (299, 0.016), (300, 0.25), (330, 0.12), (400, 0.07), (499, 0.05), (500, 0.35), (550, 0.3), (600, 0.28), (650, 0.27), (699, 0.26), (700, 0.5), (850, 0.45), (1000, 0.4)],
    [(0, 0.9), (6, 1.2), (15, 0.7), (30, 0.9), (50, 0.6), (80, 0.4), (120, 0.25), (180, 0.15), (240, 0.1), (300, 0.08), (302, 0.4), (360, 0.25), (440, 0.2), (499, 0.18), (500, 0.8), (600, 0.9), (699, 0.95), (700, 1.3), (800, 1.25), (900, 1.1), (1000, 0.95)],
    [(0, 0.1), (10, 0.25), (30, 0.15), (60, 0.08), (100, 0.04), (150, 0.02), (200, 0.012), (250, 0.009), (300, 0.007), (303, 0.05), (350, 0.025), (400, 0.015), (450, 0.011), (499, 0.009), (500, 0.06), (560, 0.05), (620, 0.045), (660, 0.04), (699, 0.038), (700, 0.15), (800, 0.2), (900, 0.24), (1000, 0.28)],
    [(0, 0.35), (20, 0.3), (60, 0.2), (110, 0.1), (150, 0.06), (200, 0.04), (299, 0.03), (300, 0.3), (330, 0.25), (400, 0.2), (499, 0.17), (500, 0.5), (600, 0.55), (699, 0.58), (700, 1.0), (800, 1.0), (1000, 0.8)],
    [(0, 0.08), (15, 0.2), (40, 0.12), (80, 0.07), (140, 0.04), (200, 0.025), (260, 0.018), (300, 0.014), (302, 0.08), (360, 0.04), (430, 0.025), (499, 0.02), (500, 0.15), (600, 0.18), (699, 0.2), (700, 0.3), (800, 0.3), (1000, 0.3)],
    [(0, 0.3), (20, 0.2), (30, 0.15), (32, 0.0008)],
]

# Panel (c): PRCC series, (time kyr, PRCC)
PRCC_NAMES = ['WDGCA22', 'SCCTHRP', 'SZSREG4X', 'MICRA226', 'MICI129', 'RHMUNO65']
PRCC_COLORS = ['#ED1C24', '#1570B8', '#0E7F48', '#8E2A6B', '#A89B3A', '#F7941E']
WDGCA22 = [(0, 0.00), (2, 0.18), (4, 0.05), (6, 0.20), (8, 0.02), (10, 0.12), (13, -0.05), (16, -0.10), (19, 0.02), (22, -0.08), (25, -0.15), (28, -0.05), (31, -0.12), (34, -0.18), (37, -0.08), (40, -0.13), (44, -0.03), (48, -0.10), (52, -0.06), (56, -0.11), (60, -0.04), (65, -0.08), (70, -0.02), (75, -0.07), (80, -0.03), (85, -0.08), (90, -0.02), (95, -0.06), (100, -0.03), (105, -0.07), (110, -0.04), (115, -0.08), (120, -0.03), (125, -0.06), (130, -0.02), (135, -0.05), (140, -0.03), (145, -0.08), (150, -0.04), (155, -0.10), (160, -0.05), (165, -0.02), (170, -0.06), (175, -0.12), (180, -0.18), (185, -0.24), (190, -0.28), (195, -0.32), (200, -0.36), (205, -0.40), (210, -0.44), (215, -0.47), (220, -0.50), (230, -0.50), (240, -0.53), (250, -0.56), (260, -0.58), (270, -0.61), (280, -0.63), (290, -0.64), (300, -0.70), (310, -0.75), (320, -0.76), (330, -0.78), (340, -0.79), (350, -0.79), (360, -0.80), (370, -0.79), (380, -0.81), (390, -0.81), (400, -0.82), (410, -0.82), (420, -0.83), (430, -0.82), (440, -0.84), (450, -0.84), (460, -0.85), (470, -0.84), (480, -0.86), (490, -0.87), (500, -0.88), (510, -0.89), (520, -0.90), (530, -0.90), (540, -0.91), (550, -0.91), (560, -0.92), (570, -0.91), (580, -0.90), (590, -0.91), (600, -0.90), (610, -0.91), (620, -0.90), (630, -0.89), (640, -0.89), (650, -0.88), (660, -0.89), (670, -0.88), (680, -0.89), (690, -0.88), (700, -0.87), (710, -0.87), (720, -0.86), (730, -0.86), (740, -0.85), (750, -0.84), (760, -0.84), (770, -0.83), (780, -0.83), (790, -0.82), (800, -0.82), (810, -0.81), (820, -0.80), (830, -0.78), (840, -0.77), (850, -0.75), (860, -0.74), (870, -0.72), (880, -0.73), (890, -0.70), (900, -0.71), (910, -0.69), (920, -0.70), (930, -0.70), (940, -0.70), (950, -0.69), (960, -0.70), (970, -0.69), (980, -0.67), (990, -0.69), (1000, -0.70)]
SCCTHRP = [(0, -0.35), (1, -0.55), (2, -0.70), (4, -0.80), (6, -0.86), (10, -0.88), (14, -0.89), (18, -0.90), (22, -0.89), (26, -0.90), (30, -0.88), (35, -0.89), (40, -0.87), (45, -0.88), (50, -0.86), (55, -0.88), (60, -0.87), (65, -0.89), (70, -0.88), (75, -0.88), (80, -0.86), (85, -0.88), (90, -0.85), (95, -0.83), (100, -0.85), (105, -0.83), (110, -0.84), (115, -0.85), (120, -0.84), (125, -0.83), (130, -0.84), (135, -0.85), (140, -0.83), (145, -0.80), (150, -0.77), (155, -0.78), (160, -0.77), (165, -0.78), (170, -0.76), (175, -0.75), (180, -0.73), (185, -0.72), (190, -0.70), (195, -0.68), (200, -0.67), (205, -0.64), (210, -0.62), (215, -0.60), (220, -0.59), (225, -0.61), (230, -0.63), (235, -0.64), (240, -0.65), (245, -0.64), (250, -0.65), (255, -0.64), (260, -0.65), (265, -0.63), (270, -0.62), (275, -0.60), (280, -0.58), (285, -0.57), (290, -0.57), (295, -0.56), (300, -0.54), (305, -0.52), (310, -0.51), (315, -0.50), (320, -0.49), (325, -0.48), (330, -0.49), (340, -0.49), (350, -0.50), (355, -0.49), (360, -0.47), (370, -0.46), (375, -0.43), (380, -0.44), (390, -0.42), (400, -0.41), (405, -0.42), (410, -0.39), (420, -0.39), (425, -0.36), (430, -0.34), (440, -0.35), (450, -0.36), (455, -0.35), (460, -0.34), (465, -0.33), (470, -0.34), (480, -0.35), (490, -0.36), (495, -0.35), (500, -0.35), (503, -0.40), (507, -0.48), (512, -0.50), (518, -0.49), (525, -0.47), (530, -0.45), (535, -0.47), (540, -0.49), (545, -0.48), (550, -0.49), (560, -0.45), (570, -0.41), (575, -0.38), (580, -0.40), (585, -0.42), (590, -0.41), (600, -0.43), (605, -0.44), (610, -0.41), (615, -0.43), (620, -0.41), (630, -0.40), (635, -0.41), (640, -0.38), (650, -0.39), (660, -0.38), (670, -0.39), (680, -0.38), (690, -0.37), (695, -0.36), (700, -0.38), (705, -0.46), (710, -0.49), (715, -0.50), (720, -0.48), (730, -0.47), (740, -0.45), (750, -0.43), (760, -0.41), (770, -0.38), (775, -0.39), (780, -0.37), (790, -0.35), (800, -0.33), (805, -0.32), (810, -0.29), (815, -0.26), (820, -0.24), (825, -0.25), (835, -0.27), (845, -0.29), (850, -0.30), (860, -0.27), (870, -0.25), (880, -0.21), (890, -0.19), (900, -0.17), (910, -0.14), (915, -0.11), (920, -0.13), (930, -0.12), (940, -0.11), (950, -0.10), (960, -0.08), (970, -0.07), (980, -0.04), (985, -0.07), (990, -0.09), (1000, -0.11)]
SZSREG4X = [(0, -0.35), (2, -0.20), (4, -0.40), (6, -0.25), (8, -0.10), (10, -0.05), (13, -0.12), (16, 0.00), (19, -0.08), (22, 0.03), (25, -0.04), (28, 0.05), (31, -0.02), (34, 0.04), (38, -0.06), (42, 0.02), (46, -0.04), (50, 0.03), (55, -0.03), (60, 0.04), (65, -0.02), (70, 0.02), (75, -0.05), (80, 0.00), (85, -0.04), (90, -0.02), (95, -0.05), (100, -0.03), (110, -0.06), (120, -0.05), (130, -0.08), (140, -0.06), (150, -0.09), (160, -0.08), (170, -0.10), (180, -0.11), (190, -0.11), (200, -0.09), (205, -0.06), (210, -0.03), (220, -0.01), (230, 0.01), (240, -0.02), (250, -0.01), (260, -0.04), (270, -0.05), (280, -0.03), (290, -0.02), (300, 0.00), (310, -0.01), (320, 0.00), (330, -0.02), (340, -0.01), (350, -0.03), (360, -0.02), (370, -0.01), (380, -0.02), (390, -0.01), (400, -0.02), (410, -0.03), (420, -0.03), (430, -0.04), (440, -0.05), (450, -0.06), (460, -0.07), (470, -0.06), (480, -0.05), (490, -0.06), (497, -0.05), (502, 0.03), (510, 0.04), (520, 0.02), (530, 0.03), (540, 0.01), (550, 0.02), (560, 0.00), (570, 0.02), (580, 0.01), (590, 0.03), (600, 0.04), (610, 0.06), (620, 0.09), (625, 0.10), (632, 0.07), (640, 0.04), (645, 0.02), (655, 0.05), (665, 0.06), (675, 0.04), (685, 0.05), (695, 0.07), (700, 0.06), (705, 0.13), (712, 0.17), (720, 0.17), (730, 0.18), (740, 0.17), (750, 0.18), (760, 0.17), (770, 0.19), (778, 0.23), (785, 0.19), (795, 0.18), (805, 0.15), (815, 0.13), (825, 0.13), (835, 0.17), (845, 0.20), (855, 0.19), (865, 0.15), (875, 0.13), (885, 0.14), (895, 0.12), (905, 0.12), (915, 0.11), (925, 0.09), (935, 0.09), (945, 0.08), (955, 0.07), (965, 0.07), (975, 0.06), (985, 0.05), (995, 0.06), (1000, 0.05)]
MICRA226 = [(0, 0.05), (2, 0.15), (4, 0.08), (6, 0.20), (8, 0.12), (10, 0.18), (13, 0.10), (16, 0.22), (19, 0.17), (22, 0.28), (25, 0.20), (28, 0.24), (31, 0.19), (34, 0.26), (37, 0.21), (40, 0.25), (43, 0.28), (46, 0.19), (50, 0.22), (55, 0.15), (60, 0.18), (65, 0.12), (70, 0.17), (75, 0.14), (80, 0.21), (85, 0.24), (90, 0.18), (95, 0.25), (100, 0.19), (105, 0.15), (110, 0.16), (115, 0.13), (120, 0.14), (125, 0.11), (130, 0.13), (135, 0.12), (140, 0.14), (145, 0.11), (150, 0.13), (155, 0.12), (160, 0.14), (165, 0.12), (170, 0.13), (175, 0.10), (180, 0.12), (185, 0.14), (190, 0.13), (195, 0.14), (200, 0.13), (205, 0.09), (210, 0.06), (215, 0.07), (220, 0.05), (225, 0.06), (230, 0.07), (235, 0.05), (240, 0.08), (245, 0.11), (250, 0.13), (255, 0.16), (260, 0.19), (265, 0.21), (270, 0.22), (275, 0.20), (280, 0.23), (285, 0.25), (290, 0.24), (295, 0.26), (300, 0.27), (305, 0.25), (310, 0.26), (315, 0.24), (320, 0.23), (325, 0.21), (330, 0.22), (335, 0.25), (340, 0.27), (345, 0.28), (350, 0.28), (355, 0.26), (360, 0.28), (365, 0.27), (370, 0.29), (380, 0.30), (385, 0.32), (390, 0.31), (400, 0.33), (410, 0.35), (415, 0.33), (420, 0.35), (425, 0.34), (430, 0.37), (435, 0.36), (440, 0.35), (445, 0.33), (450, 0.31), (455, 0.30), (460, 0.31), (470, 0.31), (480, 0.32), (490, 0.33), (495, 0.34), (500, 0.33), (505, 0.34), (510, 0.34), (520, 0.35), (525, 0.34), (530, 0.36), (540, 0.35), (545, 0.37), (550, 0.36), (560, 0.34), (565, 0.36), (570, 0.35), (575, 0.37), (580, 0.39), (585, 0.40), (590, 0.42), (595, 0.43), (600, 0.42), (605, 0.41), (610, 0.40), (615, 0.41), (620, 0.42), (625, 0.40), (630, 0.38), (635, 0.36), (640, 0.37), (645, 0.35), (650, 0.33), (655, 0.31), (660, 0.29), (665, 0.30), (670, 0.28), (675, 0.25), (680, 0.24), (685, 0.22), (690, 0.24), (695, 0.25), (700, 0.27), (705, 0.25), (710, 0.23), (715, 0.22), (720, 0.21), (725, 0.21), (730, 0.20), (735, 0.19), (740, 0.19), (745, 0.18), (750, 0.18), (760, 0.17), (770, 0.18), (780, 0.19), (785, 0.18), (790, 0.17), (795, 0.15), (800, 0.13), (805, 0.12), (810, 0.10), (815, 0.09), (820, 0.10), (825, 0.11), (830, 0.12), (835, 0.10), (840, 0.11), (845, 0.08), (850, 0.06), (855, 0.05), (860, 0.02), (865, -0.02), (870, -0.04), (875, -0.04), (880, -0.04), (890, -0.05), (900, -0.05), (910, -0.06), (920, -0.07), (930, -0.08), (940, -0.08), (950, -0.08), (960, -0.08), (970, -0.08), (980, -0.08), (990, -0.07), (1000, -0.07)]
MICI129 = [(0, 0.05), (2, -0.10), (4, 0.10), (6, -0.20), (8, 0.02), (10, -0.08), (13, 0.05), (16, -0.05), (19, 0.08), (22, 0.00), (25, 0.10), (28, -0.03), (31, 0.06), (34, -0.02), (38, 0.07), (42, 0.01), (46, 0.08), (50, 0.02), (55, 0.06), (60, -0.02), (65, 0.04), (70, 0.00), (75, 0.05), (80, -0.01), (85, 0.03), (90, 0.00), (95, 0.04), (100, 0.05), (105, 0.09), (110, 0.12), (115, 0.10), (120, 0.11), (125, 0.08), (130, 0.06), (135, 0.05), (140, 0.03), (145, 0.01), (150, 0.00), (155, -0.02), (160, -0.04), (165, -0.03), (170, -0.04), (175, -0.02), (180, -0.02), (185, 0.01), (190, 0.03), (195, 0.04), (200, 0.05), (205, 0.04), (210, 0.05), (215, 0.02), (220, -0.02), (225, -0.05), (230, -0.08), (240, -0.11), (250, -0.13), (260, -0.15), (265, -0.16), (270, -0.13), (275, -0.10), (280, -0.08), (285, -0.07), (290, -0.07), (295, -0.06), (300, -0.07), (305, -0.05), (310, -0.04), (315, -0.03), (320, -0.03), (325, -0.04), (330, -0.05), (335, -0.03), (340, -0.02), (345, -0.01), (350, -0.02), (360, -0.01), (370, 0.00), (380, 0.01), (390, 0.00), (400, 0.01), (410, 0.01), (420, 0.03), (430, 0.03), (440, 0.04), (450, 0.04), (460, 0.05), (470, 0.07), (480, 0.08), (490, 0.06), (495, 0.05), (500, 0.06), (505, 0.11), (510, 0.12), (515, 0.10), (520, 0.11), (525, 0.12), (530, 0.11), (535, 0.09), (540, 0.08), (545, 0.07), (550, 0.10), (555, 0.12), (560, 0.13), (565, 0.11), (570, 0.10), (575, 0.08), (580, 0.10), (590, 0.15), (595, 0.17), (600, 0.16), (610, 0.15), (620, 0.14), (630, 0.14), (640, 0.15), (645, 0.16), (650, 0.13), (655, 0.10), (660, 0.09), (670, 0.11), (680, 0.12), (690, 0.14), (695, 0.17), (700, 0.22), (705, 0.28), (710, 0.33), (715, 0.36), (720, 0.37), (730, 0.37), (740, 0.36), (750, 0.37), (755, 0.36), (760, 0.35), (765, 0.37), (770, 0.40), (775, 0.41), (780, 0.41), (790, 0.40), (800, 0.39), (810, 0.40), (820, 0.40), (830, 0.39), (840, 0.40), (845, 0.42), (850, 0.42), (855, 0.40), (860, 0.35), (865, 0.34), (870, 0.33), (880, 0.31), (890, 0.29), (900, 0.28), (905, 0.26), (910, 0.24), (920, 0.23), (930, 0.24), (935, 0.23), (940, 0.21), (950, 0.19), (955, 0.18), (960, 0.18), (970, 0.17), (975, 0.15), (980, 0.15), (990, 0.15), (1000, 0.14)]
RHMUNO65 = [(0, 0.00), (1, -0.10), (3, -0.30), (5, -0.42), (7, -0.20), (9, 0.05), (11, 0.10), (14, 0.02), (17, 0.12), (20, 0.15), (23, 0.05), (26, 0.14), (29, 0.08), (32, 0.16), (35, 0.00), (38, 0.10), (41, 0.04), (44, 0.12), (47, 0.02), (50, 0.10), (53, 0.16), (56, 0.06), (60, -0.03), (65, 0.05), (70, 0.01), (75, -0.04), (80, 0.00), (85, -0.05), (90, -0.02), (95, -0.06), (100, -0.04), (105, -0.03), (110, -0.06), (115, -0.05), (120, -0.08), (125, -0.07), (130, -0.10), (135, -0.09), (140, -0.12), (145, -0.11), (150, -0.12), (155, -0.10), (160, -0.11), (165, -0.09), (170, -0.10), (175, -0.08), (180, -0.07), (185, -0.06), (190, -0.04), (195, -0.03), (200, -0.03), (205, -0.01), (210, 0.00), (215, 0.02), (220, 0.01), (225, 0.00), (230, -0.01), (235, -0.02), (240, 0.00), (245, 0.02), (250, 0.01), (255, -0.02), (260, -0.01), (265, -0.03), (270, -0.05), (275, -0.06), (280, -0.03), (285, -0.05), (290, -0.04), (295, -0.03), (300, -0.02), (303, 0.05), (306, 0.07), (310, 0.06), (315, 0.08), (320, 0.07), (325, 0.06), (330, 0.07), (335, 0.06), (340, 0.07), (345, 0.05), (350, 0.06), (355, 0.05), (360, 0.03), (365, 0.00), (370, -0.02), (375, -0.05), (380, -0.06), (385, -0.04), (390, -0.03), (395, -0.03), (400, -0.04), (410, -0.02), (420, -0.03), (430, -0.01), (440, 0.00), (450, 0.02), (460, 0.03), (470, 0.04), (480, 0.05), (490, 0.06), (495, 0.04), (500, 0.05), (503, 0.13), (507, 0.20), (512, 0.21), (518, 0.22), (525, 0.20), (530, 0.18), (535, 0.21), (540, 0.20), (545, 0.19), (550, 0.17), (555, 0.19), (560, 0.18), (565, 0.15), (568, 0.10), (572, 0.04), (576, 0.08), (580, 0.10), (585, 0.11), (590, 0.12), (595, 0.13), (600, 0.13), (610, 0.14), (620, 0.13), (630, 0.14), (640, 0.15), (645, 0.17), (650, 0.16), (655, 0.12), (660, 0.11), (665, 0.09), (670, 0.07), (675, 0.08), (680, 0.10), (685, 0.09), (690, 0.07), (695, 0.06), (700, 0.08), (705, 0.13), (710, 0.18), (715, 0.21), (720, 0.20), (725, 0.19), (735, 0.17), (745, 0.16), (755, 0.15), (765, 0.15), (775, 0.17), (780, 0.19), (790, 0.16), (800, 0.14), (810, 0.11), (820, 0.10), (830, 0.08), (840, 0.07), (850, 0.08), (860, 0.06), (865, 0.03), (870, 0.00), (875, 0.03), (880, 0.07), (885, 0.06), (890, 0.04), (895, 0.02), (900, 0.03), (910, 0.02), (920, 0.03), (930, 0.02), (940, 0.02), (950, 0.03), (960, 0.02), (970, 0.03), (980, 0.04), (985, 0.01), (990, 0.03), (1000, 0.05)]
PRCC_SERIES = [WDGCA22, SCCTHRP, SZSREG4X, MICRA226, MICI129, RHMUNO65]

X_TICKS = [0, 200000, 400000, 600000, 800000, 1000000]
HEADER_1 = 'LA_v5.005_SM_009000_000.gsm;'
HEADER_1C = 'LA_v5.005_SM_009000_000.gsm; GM_1M_00_300_EXPDOSE.mview'
HEADER_2 = 'LA_v5.005_GM_1M_00_300_EXPDOSE_PRCC_HT_REV00.JNB'

# ---------------------------------------------------------------- figure
W, H = 686, 1488
fig = plt.figure(figsize=(W / 100, H / 100), dpi=100)
GREY = '#a2a2a2'
LEFT, RIGHT = 88.2, 655.8


def ax_rect(top_px, bot_px):
    return [LEFT / W, 1 - bot_px / H, (RIGHT - LEFT) / W, (bot_px - top_px) / H]


axA = fig.add_axes(ax_rect(50, 412))
axB = fig.add_axes(ax_rect(534, 897))
axC = fig.add_axes(ax_rect(1023, 1420))

xfmt = FuncFormatter(lambda v, p: f'{int(round(v)):,}')
TICK_LEN, TICK_W, MINOR_LEN = 5.5, 1.2, 3.5
XLAB_SIZE = 11.3


def style_common_x(ax):
    ax.set_xlim(0, 1e6)
    ax.xaxis.set_major_locator(FixedLocator(X_TICKS))
    ax.xaxis.set_minor_locator(MultipleLocator(50000))
    ax.xaxis.set_major_formatter(xfmt)
    ax.tick_params(axis='x', which='major', direction='out', length=TICK_LEN, width=TICK_W,
                   labelsize=XLAB_SIZE, pad=3)
    ax.tick_params(axis='x', which='minor', direction='in', length=MINOR_LEN, width=1.0)
    for s in ax.spines.values():
        s.set_linewidth(1.8)


def style_dose(ax):
    ax.set_yscale('log')
    ax.set_ylim(1e-3, 1e2)
    style_common_x(ax)
    ax.yaxis.set_major_locator(LogLocator(base=10, numticks=20))
    ax.yaxis.set_minor_locator(LogLocator(base=10, subs=np.arange(2, 10), numticks=100))
    ax.yaxis.set_minor_formatter(NullFormatter())
    ax.tick_params(axis='y', which='major', direction='out', length=TICK_LEN, width=TICK_W,
                   labelsize=11.5, pad=3)
    ax.tick_params(axis='y', which='minor', direction='in', length=MINOR_LEN, width=1.0)
    ax.grid(True, which='major', linestyle=(0, (3, 2)), color='#666666', linewidth=0.7)
    ax.set_axisbelow(False)
    sx = ax.secondary_xaxis('top')
    sx.xaxis.set_major_locator(FixedLocator(X_TICKS))
    sx.xaxis.set_minor_locator(MultipleLocator(50000))
    sx.xaxis.set_major_formatter(NullFormatter())
    sx.tick_params(which='major', direction='in', length=TICK_LEN, width=TICK_W)
    sx.tick_params(which='minor', direction='in', length=MINOR_LEN, width=1.0)
    sx.spines['top'].set_linewidth(1.8)
    sy = ax.secondary_yaxis('right')
    sy.yaxis.set_major_locator(LogLocator(base=10, numticks=20))
    sy.yaxis.set_minor_locator(LogLocator(base=10, subs=np.arange(2, 10), numticks=100))
    sy.yaxis.set_major_formatter(NullFormatter())
    sy.yaxis.set_minor_formatter(NullFormatter())
    sy.tick_params(which='major', direction='in', length=TICK_LEN, width=TICK_W)
    sy.tick_params(which='minor', direction='in', length=MINOR_LEN, width=1.0)
    sy.spines['right'].set_linewidth(1.8)


# ---- panel (a)
tg = np.array(T_GRID_A) * 1000.0
for logs in A_GRID_LOG:
    axA.plot(tg, 10.0 ** np.array(logs), color=GREY, lw=0.85)
for pts in A_FREE:
    t, y = zip(*pts)
    axA.plot(np.array(t) * 1000.0, y, color=GREY, lw=0.85)
style_dose(axA)

# ---- panel (b)
for pts in B_CURVES:
    t, y = zip(*pts)
    axB.plot(np.array(t) * 1000.0, y, color=GREY, lw=0.9)
style_dose(axB)

# ---- panel (c)
for name, col, ser in zip(PRCC_NAMES, PRCC_COLORS, PRCC_SERIES):
    t, v = zip(*ser)
    axC.plot(np.array(t) * 1000.0, v, color=col, lw=1.9, label=name)
style_common_x(axC)
axC.set_ylim(-1.2, 1.2)
axC.yaxis.set_major_locator(FixedLocator([-1.0, -0.5, 0.0, 0.5, 1.0]))
axC.yaxis.set_minor_locator(FixedLocator([-0.75, -0.25, 0.25, 0.75]))
axC.yaxis.set_major_formatter(FormatStrFormatter('%.2f'))
axC.yaxis.set_minor_formatter(FormatStrFormatter('%.2f'))
axC.tick_params(axis='y', which='major', direction='out', length=TICK_LEN, width=TICK_W,
                labelsize=11, pad=3)
axC.tick_params(axis='y', which='minor', direction='in', length=MINOR_LEN + 1, width=1.0,
                labelsize=11, pad=3 + TICK_LEN)
axC.grid(True, which='major', linestyle=(0, (3, 2)), color='#222222', linewidth=0.8)
axC.set_axisbelow(True)
syc = axC.secondary_yaxis('right')
syc.yaxis.set_major_locator(FixedLocator([-1.0, -0.75, -0.5, -0.25, 0.0, 0.25, 0.5, 0.75, 1.0]))
syc.yaxis.set_major_formatter(NullFormatter())
syc.tick_params(which='major', direction='in', length=MINOR_LEN + 1, width=1.0)
syc.spines['right'].set_linewidth(1.8)

leg = axC.legend(loc='upper left', bbox_to_anchor=(0.049, 0.972), borderaxespad=0,
                 fontsize=11.3, frameon=True, fancybox=False, edgecolor='black',
                 handlelength=2.5, handletextpad=0.6, labelspacing=0.48, borderpad=0.6)
leg.get_frame().set_linewidth(0.9)
for h in leg.get_lines():
    h.set_linewidth(2.4)

# shift the last x tick label ("1,000,000") slightly left so it stays inside the figure
for ax in (axA, axB, axC):
    lab = ax.xaxis.get_major_ticks()[-1].label1
    lab.set_transform(lab.get_transform() + ScaledTranslation(-6 / 100, 0, fig.dpi_scale_trans))

# ---- texts
def fy(px):
    return 1 - px / H

for lab, ypx in [('(a)', 17), ('(b)', 503), ('(c)', 994)]:
    fig.text(10 / W, fy(ypx), lab, fontsize=15, ha='left', va='center')

for l1, ya, yb in [(HEADER_1, 25, 40), (HEADER_1, 508, 523), (HEADER_1C, 998, 1013)]:
    fig.text(RIGHT / W, fy(ya), l1, fontsize=HDR_SIZE, family=HDR_FONT, ha='right', va='center')
    fig.text(RIGHT / W, fy(yb), HEADER_2, fontsize=HDR_SIZE, family=HDR_FONT, ha='right', va='center')

for ypx in [470, 955, 1475]:
    fig.text(0.5 * (LEFT + RIGHT) / W, fy(ypx), 'Time (years)', fontsize=13.5, ha='center', va='center')

fig.text(23 / W, fy((50 + 412) / 2), 'Expected Dose (mrem/yr)', fontsize=13.5, rotation=90,
         ha='center', va='center')
fig.text(23 / W, fy((534 + 897) / 2), 'Expected Dose (mrem/yr)', fontsize=13.5, rotation=90,
         ha='center', va='center')
fig.text(21 / W, fy((1023 + 1420) / 2), 'PRCC for EXPDOSE', fontsize=13.5, rotation=90,
         ha='center', va='center')
fig.text(667 / W, fy(1420), '00264DC_LA_1600.ai', fontsize=9, rotation=90,
         ha='center', va='bottom')

fig.savefig('out.png', dpi=100, facecolor='white')
